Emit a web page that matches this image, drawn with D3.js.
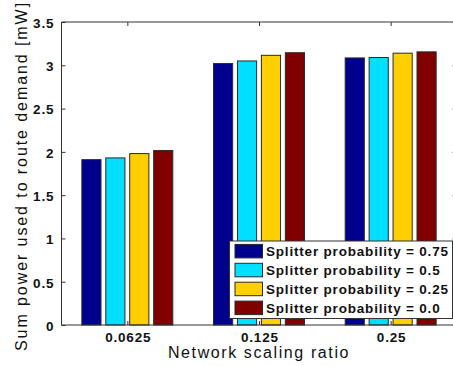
<!DOCTYPE html>
<html>
<head>
<meta charset="utf-8">
<script src="https://cdn.jsdelivr.net/npm/d3@7"></script>
<style>
  html, body { margin: 0; padding: 0; background: #fff; }
  svg { display: block; }
  text { font-family: "Liberation Sans", Arial, Helvetica, sans-serif; }
</style>
</head>
<body>
<svg id="chart" width="453" height="366"></svg>
<script>
const categories = ["0.0625", "0.125", "0.25"];
const seriesNames = ["Splitter probability = 0.75", "Splitter probability = 0.5", "Splitter probability = 0.25", "Splitter probability = 0.0"];
const series075 = [1.91, 3.02, 3.085];
const series050 = [1.93, 3.05, 3.09];
const series025 = [1.98, 3.115, 3.14];
const series000 = [2.015, 3.145, 3.155];
const seriesValues = [series075, series050, series025, series000];
const seriesColors = ["#00008F", "#00DFFF", "#FFCF00", "#800000"];
const yTicks = [0, 0.5, 1, 1.5, 2, 2.5, 3, 3.5];
const yTickLabels = ["0", "0.5", "1", "1.5", "2", "2.5", "3", "3.5"];

const svg = d3.select("#chart");
const pLeft = 61.5, pRight = 456.5, pTop = 22, pBottom = 325;
const x = d3.scaleLinear().domain([0.5, 3.5]).range([pLeft, pRight]);
const y = d3.scaleLinear().domain([0, 3.5]).range([pBottom, pTop]);

const nS = seriesValues.length;
const groupW = Math.min(0.8, nS / (nS + 1.5));
const slot = groupW / nS;
const barW = slot * 0.8;

// bars
seriesValues.forEach((vals, si) => {
  svg.append("g").selectAll("rect").data(vals).join("rect")
    .attr("x", (d, i) => x(i + 1 - groupW / 2 + slot * si + slot / 2 - barW / 2))
    .attr("width", x(barW) - x(0))
    .attr("y", d => y(d))
    .attr("height", d => y(0) - y(d))
    .attr("fill", seriesColors[si])
    .attr("stroke", "#2a2a2a")
    .attr("stroke-width", 1);
});

const axisColor = "#333";
const tickLen = 4;
// axes box lines
svg.append("line").attr("x1", pLeft).attr("x2", pRight).attr("y1", pTop).attr("y2", pTop).attr("stroke", axisColor);
svg.append("line").attr("x1", pLeft).attr("x2", pRight).attr("y1", pBottom).attr("y2", pBottom).attr("stroke", axisColor);
svg.append("line").attr("x1", pLeft).attr("x2", pLeft).attr("y1", pTop).attr("y2", pBottom).attr("stroke", axisColor);
svg.append("line").attr("x1", pRight).attr("x2", pRight).attr("y1", pTop).attr("y2", pBottom).attr("stroke", axisColor);

// left axis (ticks inward)
const yAxis = d3.axisLeft(y).tickValues(yTicks).tickFormat((d, i) => yTickLabels[i])
  .tickSizeInner(-tickLen).tickSizeOuter(0).tickPadding(8);
const gy = svg.append("g").attr("transform", `translate(${pLeft},0)`).call(yAxis);
gy.select(".domain").remove();
gy.selectAll(".tick line").attr("stroke", axisColor);
gy.selectAll(".tick text").attr("font-size", 13.5).attr("font-weight", "bold")
  .attr("fill", "#111").style("letter-spacing", "0.06em").attr("dx", "0.06em").attr("dy", "0.4em");

// right axis ticks
const yAxisR = d3.axisRight(y).tickValues(yTicks).tickFormat("").tickSizeInner(-tickLen).tickSizeOuter(0);
const gyr = svg.append("g").attr("transform", `translate(${pRight},0)`).call(yAxisR);
gyr.select(".domain").remove();
gyr.selectAll(".tick line").attr("stroke", axisColor);

// bottom axis
const xAxis = d3.axisBottom(x).tickValues([1, 2, 3]).tickFormat((d, i) => categories[i])
  .tickSizeInner(-tickLen).tickSizeOuter(0).tickPadding(7);
const gx = svg.append("g").attr("transform", `translate(0,${pBottom})`).call(xAxis);
gx.select(".domain").remove();
gx.selectAll(".tick line").attr("stroke", axisColor);
gx.selectAll(".tick text").attr("font-size", 13.5).attr("font-weight", "bold")
  .attr("fill", "#111").style("letter-spacing", "0.06em").attr("dx", "0.03em");

// top axis ticks
const xAxisT = d3.axisTop(x).tickValues([1, 2, 3]).tickFormat("").tickSizeInner(-tickLen).tickSizeOuter(0);
const gxt = svg.append("g").attr("transform", `translate(0,${pTop})`).call(xAxisT);
gxt.select(".domain").remove();
gxt.selectAll(".tick line").attr("stroke", axisColor);

// axis labels
svg.append("text").attr("x", (pLeft + pRight) / 2).attr("y", 357.5)
  .attr("text-anchor", "middle").attr("font-size", 16).attr("fill", "#111")
  .style("letter-spacing", "0.1em")
  .text("Network scaling ratio");
svg.append("text").attr("transform", `translate(27,${(pTop + pBottom) / 2 + 2.5}) rotate(-90)`)
  .attr("text-anchor", "middle").attr("font-size", 16).attr("fill", "#111")
  .style("letter-spacing", "0.12em")
  .text("Sum power used to route demand [mW]");

// legend
const lg = svg.append("g");
lg.append("rect").attr("x", 229.5).attr("y", 241).attr("width", 223).attr("height", 77.5)
  .attr("fill", "#fff").attr("stroke", "#333").attr("stroke-width", 1);
seriesNames.forEach((name, i) => {
  const cy = 251.2 + i * 18.9;
  lg.append("rect").attr("x", 235).attr("y", cy - 6.8).attr("width", 27.5).attr("height", 13.5)
    .attr("fill", seriesColors[i]).attr("stroke", "#2a2a2a").attr("stroke-width", 1);
  lg.append("text").attr("x", 266).attr("y", cy).attr("dy", "0.36em")
    .attr("font-size", 13.5).attr("font-weight", "bold").attr("fill", "#111")
    .style("letter-spacing", "0.06em").text(name);
});
</script>
</body>
</html>
